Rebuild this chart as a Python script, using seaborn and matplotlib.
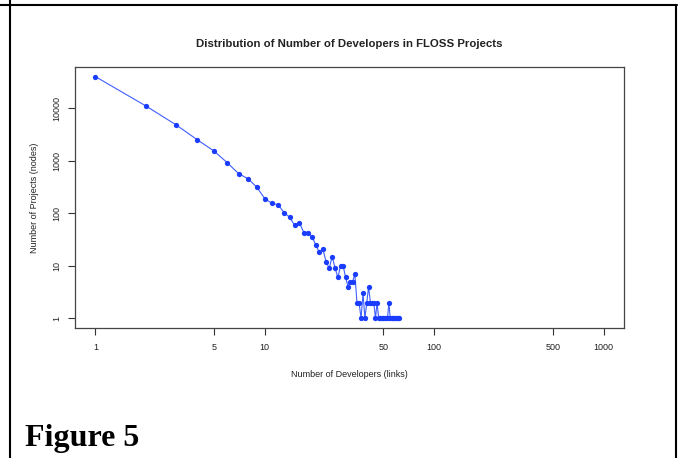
import matplotlib
matplotlib.use("Agg")
import matplotlib.pyplot as plt
from matplotlib.lines import Line2D
from matplotlib.ticker import NullLocator, FixedLocator, FixedFormatter
import numpy as np
import seaborn as sns

sns.set_theme(style="ticks")
plt.rcParams["font.family"] = ["Liberation Sans", "DejaVu Sans"]

# developers per project (links) and number of projects with that many (nodes)
developers = list(range(1, 63))
projects = [40000, 10900, 4800, 2500, 1540, 920, 570, 450, 310, 190,
            155, 145, 103, 84, 59, 66, 43, 43, 36, 25,
            18, 21, 12, 9, 15, 9, 6, 10, 10, 6,
            4, 5, 5, 7, 2, 2, 1, 3, 1, 2,
            4, 2, 2, 2, 1, 2, 1, 1, 1, 1,
            1, 1, 1, 2, 1, 1, 1, 1, 1, 1,
            1, 1]

x_ticks = [1, 5, 10, 50, 100, 500, 1000]
y_ticks = [1, 10, 100, 1000, 10000]

W, H = 682, 458
fig = plt.figure(figsize=(W / 100, H / 100), dpi=100)
ax = fig.add_axes([75 / W, 1 - 328 / H, (624 - 75) / W, (328 - 67) / H])

blue = "#1a3cff"
sns.lineplot(x=developers, y=projects, ax=ax, color="#3f5fff", linewidth=0.8,
             marker="o", markersize=3.8, markeredgewidth=0,
             markerfacecolor=blue, sort=False, estimator=None)

ax.set_xscale("log")
ax.set_yscale("log")
ax.set_xlim(10 ** -0.12, 10 ** 3.12)
ax.set_ylim(10 ** -0.184, 10 ** 4.784)

ax.xaxis.set_major_locator(FixedLocator(x_ticks))
ax.xaxis.set_major_formatter(FixedFormatter([str(v) for v in x_ticks]))
ax.yaxis.set_major_locator(FixedLocator(y_ticks))
ax.yaxis.set_major_formatter(FixedFormatter([str(v) for v in y_ticks]))
ax.xaxis.set_minor_locator(NullLocator())
ax.yaxis.set_minor_locator(NullLocator())

ax.tick_params(axis="both", length=5, width=0.8, color="#333333",
               labelsize=6.5, labelcolor="#222222")
ax.tick_params(axis="x", pad=6)
ax.tick_params(axis="y", pad=4.5)
for lbl in ax.get_yticklabels():
    lbl.set_rotation(90)
    lbl.set_va("center")

for s in ax.spines.values():
    s.set_color("#444444")
    s.set_linewidth(0.9)

ax.set_title("Distribution of Number of Developers in FLOSS Projects",
             fontsize=8.2, fontweight="bold", color="#222222", pad=14.5)
ax.set_xlabel("Number of Developers (links)", fontsize=6.5, color="#222222", labelpad=13)
ax.set_ylabel("Number of Projects (nodes)", fontsize=6.5, color="#222222", labelpad=10)

# page frame around the figure
lw = 1.5
fig.add_artist(Line2D([0, 677 / W], [1 - 5 / H, 1 - 5 / H], color="black", lw=lw))
fig.add_artist(Line2D([10 / W, 10 / W], [0, 1], color="black", lw=lw))
fig.add_artist(Line2D([676 / W, 676 / W], [0, 1 - 5 / H], color="black", lw=lw))

fig.text(25 / W, 1 - 446 / H, "Figure 5", fontsize=23, fontweight="bold",
         family=["Liberation Serif", "DejaVu Serif"], color="black")

fig.savefig("out.png", dpi=100)
